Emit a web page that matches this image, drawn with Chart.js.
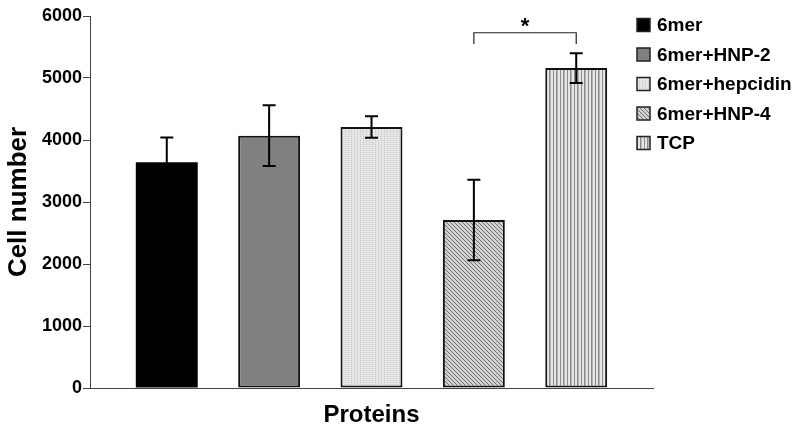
<!DOCTYPE html>
<html>
<head>
<meta charset="utf-8">
<script src="https://cdn.jsdelivr.net/npm/chart.js@4.4.1/dist/chart.umd.min.js"></script>
<style>
  html, body { margin: 0; padding: 0; background: #fff; }
</style>
</head>
<body>
<canvas id="grafico" width="800" height="433"></canvas>
<script>
// data
const categories = ["6mer", "6mer+HNP-2", "6mer+hepcidin", "6mer+HNP-4", "TCP"];
const cellNumber = [3640, 4070, 4210, 2710, 5160];
const errors = [400, 490, 175, 650, 240];
const yTicks = [0, 1000, 2000, 3000, 4000, 5000, 6000];
const signifPair = [3, 4];
const signifLevel = [5550, 5730];

// fill patterns like the old excel hatches
const makePattern = (type) => {
  const c = document.createElement("canvas");
  const ctx = c.getContext("2d");
  if (type === "dots") {
    c.width = 3; c.height = 2;
    ctx.fillStyle = "#e6e6e6"; ctx.fillRect(0, 0, 3, 2);
    ctx.fillStyle = "#c4c4c4"; ctx.fillRect(0, 0, 1, 1);
  } else if (type === "diag") {
    c.width = 4; c.height = 4;
    ctx.fillStyle = "#d2d2d2"; ctx.fillRect(0, 0, 4, 4);
    ctx.fillStyle = "#707070";
    for (let i = 0; i < 4; i++) ctx.fillRect(i, i, 1, 1);
  } else if (type === "vert") {
    c.width = 7; c.height = 1;
    ctx.fillStyle = "#e6e6e6"; ctx.fillRect(0, 0, 7, 1);
    ctx.fillStyle = "#8a8a8a"; ctx.fillRect(0, 0, 1, 1); ctx.fillRect(3, 0, 1, 1);
    ctx.fillStyle = "#b4b4b4"; ctx.fillRect(4, 0, 1, 1);
  }
  return ctx.createPattern(c, "repeat");
};

const fills = ["#000000", "#808080", makePattern("dots"), makePattern("diag"), makePattern("vert")];

const datasets = categories.map((nome, i) => ({
  label: nome,
  data: [{ x: i, y: cellNumber[i] }],
  backgroundColor: fills[i],
  borderColor: "#111",
  borderWidth: i === 0 ? 0 : 2,
  borderSkipped: false,
  barPercentage: 0.605,
  categoryPercentage: 1,
  grouped: false
}));

// error bars, significance bracket and legend
const extras = {
  id: "extras",
  afterDatasetsDraw(chart) {
    const { ctx, scales: { x, y } } = chart;
    ctx.save();
    ctx.strokeStyle = "#000";
    ctx.lineWidth = 2;
    datasets.forEach((ds, i) => {
      const bar = chart.getDatasetMeta(i).data[0];
      const top = y.getPixelForValue(cellNumber[i] + errors[i]);
      const bot = y.getPixelForValue(cellNumber[i] - errors[i]);
      ctx.beginPath();
      ctx.moveTo(bar.x, top); ctx.lineTo(bar.x, bot);
      ctx.moveTo(bar.x - 6.5, top); ctx.lineTo(bar.x + 6.5, top);
      ctx.moveTo(bar.x - 6.5, bot); ctx.lineTo(bar.x + 6.5, bot);
      ctx.stroke();
    });

    // bracket with *
    const x1 = x.getPixelForValue(signifPair[0]);
    const x2 = x.getPixelForValue(signifPair[1]);
    const yLow = y.getPixelForValue(signifLevel[0]);
    const yHigh = y.getPixelForValue(signifLevel[1]);
    ctx.lineWidth = 1.2;
    ctx.strokeStyle = "#222";
    ctx.beginPath();
    ctx.moveTo(x1, yLow); ctx.lineTo(x1, yHigh); ctx.lineTo(x2, yHigh); ctx.lineTo(x2, yLow);
    ctx.stroke();
    ctx.fillStyle = "#000";
    ctx.font = "bold 22px 'Liberation Sans', Arial";
    ctx.textAlign = "center";
    ctx.textBaseline = "middle";
    ctx.fillText("*", (x1 + x2) / 2, yHigh - 6);

    // legend
    ctx.font = "bold 19px 'Liberation Sans', Arial";
    ctx.textAlign = "left";
    datasets.forEach((ds, i) => {
      const cy = 25 + i * 29.5;
      ctx.fillStyle = ds.backgroundColor;
      ctx.fillRect(637, cy - 6.5, 13, 13);
      ctx.lineWidth = 1.5;
      ctx.strokeStyle = "#222";
      ctx.strokeRect(637, cy - 6.5, 13, 13);
      ctx.fillStyle = "#000";
      ctx.fillText(ds.label, 657, cy + 1);
    });
    ctx.restore();
  }
};

new Chart(document.getElementById("grafico"), {
  type: "bar",
  data: { datasets },
  options: {
    responsive: false,
    animation: false,
    layout: { padding: { left: 0, right: 147, top: 16, bottom: 0 } },
    plugins: {
      legend: { display: false },
      tooltip: { enabled: false }
    },
    scales: {
      x: {
        type: "linear",
        offset: false,
        min: -0.75,
        max: 4.75,
        afterBuildTicks: (s) => { s.ticks = categories.map((c, i) => ({ value: i })); },
        afterFit: (s) => { s.height = 45; },
        ticks: { display: false },
        grid: { display: false },
        border: { display: true, color: "#444", width: 1 },
        title: {
          display: true,
          text: "Proteins",
          color: "#000",
          font: { family: "'Liberation Sans', Arial", size: 24, weight: "bold" },
          padding: { top: 0, bottom: 3 }
        }
      },
      y: {
        min: 0,
        max: 6000,
        afterBuildTicks: (s) => { s.ticks = yTicks.map((v) => ({ value: v })); },
        afterFit: (s) => { s.width = 90; },
        ticks: {
          color: "#000",
          padding: 1,
          callback: (v) => String(v),
          font: { family: "'Liberation Sans', Arial", size: 18, weight: "bold" }
        },
        grid: { drawOnChartArea: false, drawTicks: true, tickLength: 7, color: "#444" },
        border: { display: true, color: "#444", width: 1 },
        title: {
          display: true,
          text: "Cell number",
          color: "#000",
          font: { family: "'Liberation Sans', Arial", size: 26, weight: "bold" },
          padding: { top: 3, bottom: 0 }
        }
      }
    }
  },
  plugins: [extras]
});
</script>
</body>
</html>
